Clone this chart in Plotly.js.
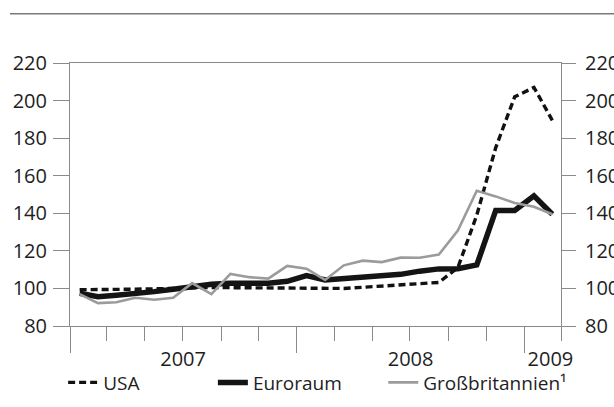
<!DOCTYPE html>
<html>
<head>
<meta charset="utf-8">
<script src="https://cdn.plot.ly/plotly-3.0.1.min.js"></script>
<style>html,body{margin:0;padding:0;background:#fff;}#chart{width:614px;height:407px;}</style>
</head>
<body>
<div id="chart"></div>
<script>
// Monthly values, Jan 2007 – Feb 2009
var months = ['2007-01','2007-02','2007-03','2007-04','2007-05','2007-06','2007-07','2007-08','2007-09','2007-10','2007-11','2007-12',
              '2008-01','2008-02','2008-03','2008-04','2008-05','2008-06','2008-07','2008-08','2008-09','2008-10','2008-11','2008-12',
              '2009-01','2009-02'];
var usa  = [99.3, 99.3, 99.4, 99.6, 99.8, 100.1, 100.4, 100.5, 100.4, 100.3, 100.2, 100.0,
            99.8, 99.7, 100.0, 100.6, 101.2, 101.9, 102.5, 103.2, 111, 139, 175, 202, 207, 189.5];
var euro = [97.4, 95.6, 96.4, 97.2, 98.3, 99.6, 101, 102.2, 102.8, 102.8, 102.8, 103.8,
            106.8, 104.5, 105.2, 106.3, 106.8, 107.5, 109.2, 110.4, 110.5, 112.5, 141.5, 141.5, 149.3, 139.5];
var gb   = [97, 92.2, 92.6, 95, 94, 95, 102.8, 97, 107.7, 106, 105.2, 112,
            110.5, 104.5, 112.3, 114.8, 114, 116.4, 116.3, 118, 130.8, 152, 149, 145.5, 143.5, 139.5];
var names = ['USA', 'Euroraum', 'Großbritannien¹'];
var yearLabels = ['2007', '2008', '2009'];
var yearLabelPos = ['2007-07-02', '2008-07-02', '2009-02-12'];
var yTicks = [80, 100, 120, 140, 160, 180, 200, 220];

var axisCol = '#8a8a8a';
var textCol = '#1e1e1e';
var fnt = {family: 'Open Sans, Noto Sans, sans-serif', size: 20, color: textCol};
var lfnt = {family: 'Open Sans, Noto Sans, sans-serif', size: 19, color: textCol};

var traces = [
  {x: months, y: euro, name: names[1], type: 'scatter', mode: 'lines', xperiod: 'M1', xperiodalignment: 'middle',
   line: {color: '#141414', width: 5.5}, legend: 'legend2', xaxis: 'x', yaxis: 'y'},
  {x: months, y: usa, name: names[0], type: 'scatter', mode: 'lines', xperiod: 'M1', xperiodalignment: 'middle',
   line: {color: '#111', width: 3.4, dash: '7px,4px'}, legend: 'legend', xaxis: 'x', yaxis: 'y'},
  {x: months, y: gb, name: names[2], type: 'scatter', mode: 'lines', xperiod: 'M1', xperiodalignment: 'middle',
   line: {color: '#9b9b9b', width: 2.6}, legend: 'legend3', xaxis: 'x2', yaxis: 'y2'}
];

var xr = ['2007-01-01', '2009-03-01'];
var layout = {
  width: 614, height: 407,
  margin: {l: 70, r: 53, t: 63, b: 81, autoexpand: false},
  paper_bgcolor: '#fff', plot_bgcolor: '#fff',
  font: fnt,
  showlegend: true,
  xaxis: {
    type: 'date', range: xr, showgrid: false, zeroline: false, automargin: false,
    showline: true, linecolor: axisCol, linewidth: 1, mirror: true,
    tick0: '2007-01-01', dtick: 'M12', ticks: 'outside', ticklen: 26, tickcolor: axisCol, tickwidth: 1,
    showticklabels: false,
    minor: {dtick: 'M2', tick0: '2007-01-01', ticks: 'outside', ticklen: 14, tickcolor: axisCol, tickwidth: 1, showgrid: false}
  },
  xaxis2: {
    type: 'date', range: xr, overlaying: 'x', anchor: 'y2', side: 'bottom', automargin: false,
    showgrid: false, zeroline: false, showline: false,
    tickmode: 'array', tickvals: yearLabelPos, ticktext: yearLabels,
    ticks: 'outside', ticklen: 15, tickcolor: 'rgba(0,0,0,0)', tickfont: fnt
  },
  yaxis: {
    range: [80, 220], tickmode: 'array', tickvals: yTicks, showgrid: false, zeroline: false, automargin: false,
    showline: true, linecolor: axisCol, linewidth: 1,
    ticks: 'outside', ticklen: 16, tickcolor: axisCol, tickwidth: 1, tickfont: fnt, ticklabelstandoff: 2
  },
  yaxis2: {
    range: [80, 220], overlaying: 'y', side: 'right', anchor: 'x2', automargin: false,
    tickmode: 'array', tickvals: yTicks, showgrid: false, zeroline: false,
    showline: true, linecolor: axisCol, linewidth: 1,
    ticks: 'outside', ticklen: 14, tickcolor: axisCol, tickwidth: 1, tickfont: fnt, ticklabelstandoff: 5
  },
  legend:  {orientation: 'h', x: -0.014, y: -0.215, xanchor: 'left', yanchor: 'middle', font: lfnt, bgcolor: 'rgba(0,0,0,0)'},
  legend2: {orientation: 'h', x: 0.291, y: -0.215, xanchor: 'left', yanchor: 'middle', font: lfnt, bgcolor: 'rgba(0,0,0,0)'},
  legend3: {orientation: 'h', x: 0.638, y: -0.215, xanchor: 'left', yanchor: 'middle', font: lfnt, bgcolor: 'rgba(0,0,0,0)'},
  shapes: [
    {type: 'line', xref: 'paper', yref: 'paper', x0: -0.1223, x1: 1.11, y0: 1.187, y1: 1.187,
     line: {color: '#7a7a7a', width: 1.5}}
  ]
};

Plotly.newPlot('chart', traces, layout, {displayModeBar: false, staticPlot: true});
</script>
</body>
</html>
